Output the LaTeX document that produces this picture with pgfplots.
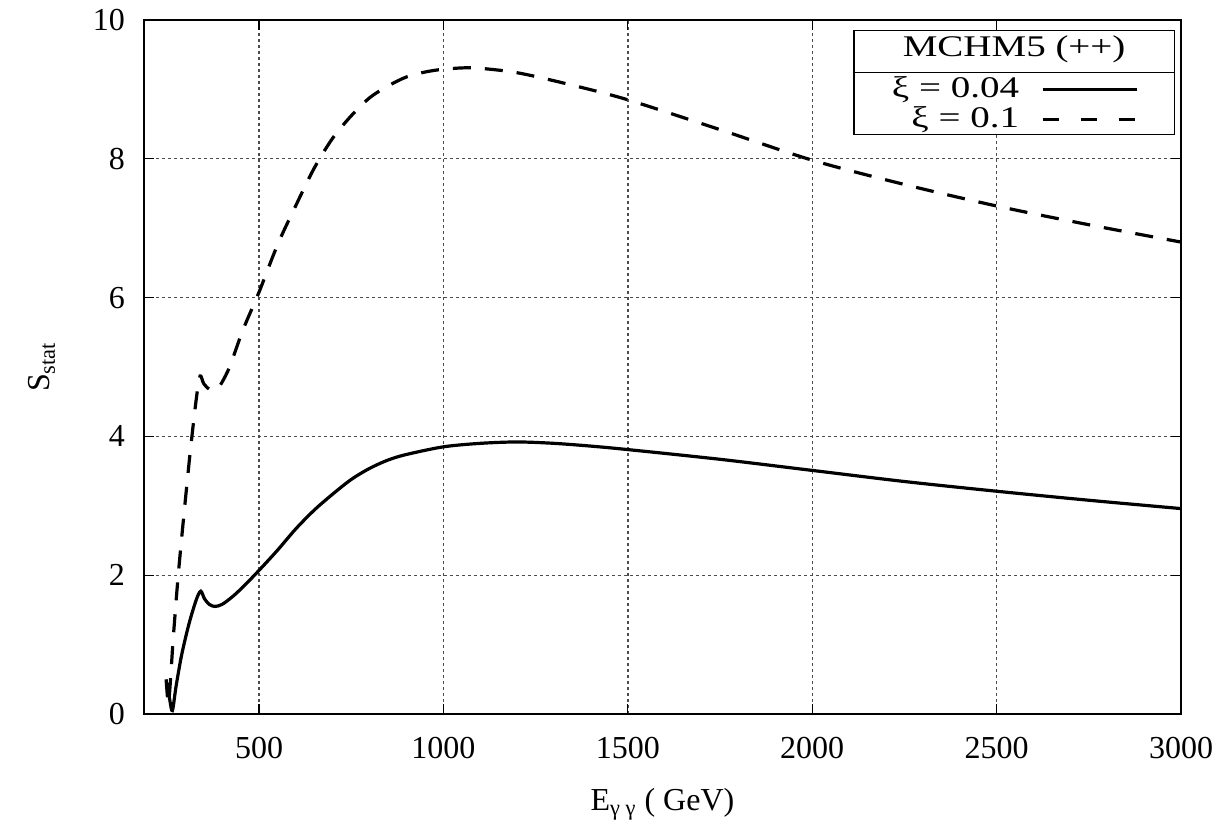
\documentclass[border=0pt]{standalone}
\usepackage{fontspec}
\setmainfont{Liberation Serif}
\newfontfamily\legfont[FakeStretch=1.3]{Liberation Serif}
\usepackage{pgfplots}
\pgfplotsset{compat=1.18}
\usetikzlibrary{calc}
\begin{document}
\fontsize{16}{19}\selectfont
\begin{tikzpicture}
\begin{axis}[
  name=ax,
  scale only axis,
  width=518.5pt, height=347pt,
  xmin=188, xmax=3000, ymin=0, ymax=10,
  xtick={500,1000,1500,2000,2500,3000},
  ytick={0,2,4,6,8,10},
  /pgf/number format/assume math mode=true,
  /pgf/number format/1000 sep={},
  tick label style={font=\fontsize{16}{19}\selectfont},
  label style={font=\fontsize{16}{19}\selectfont},
  xticklabel style={yshift=-6pt},
  yticklabel style={xshift=-4pt},
  grid=major,
  major grid style={black!70, dash pattern=on 1.3pt off 1.7pt, line width=0.7pt},
  tick style={black, line width=0.6pt},
  major tick length=5pt,
  tick align=inside,
  axis line style={line width=1pt},
  xlabel={E\textsubscript{γ γ} ( GeV)},
  ylabel={S\textsubscript{stat}},
  xlabel style={yshift=-4pt},
  ylabel style={yshift=8pt},
]
\addplot[black, line width=1.6pt, smooth] coordinates {
(251,0.45) (258,0.2) (265,0.05) (275,0.4) (290,0.85) (310,1.3) (330,1.65) (342,1.77)
(352,1.66) (365,1.58) (380,1.55) (400,1.58) (430,1.7) (460,1.85) (500,2.07)
(550,2.36) (600,2.67) (650,2.94) (700,3.17) (750,3.38) (800,3.54) (850,3.66) (900,3.74)
(1000,3.85) (1100,3.9) (1200,3.92) (1300,3.9) (1400,3.86) (1500,3.81)
(1750,3.67) (2000,3.51) (2250,3.35) (2500,3.21) (2750,3.08) (3000,2.96)
};
\addplot[black, line width=1.6pt, dash pattern=on 9pt off 7pt, smooth] coordinates {
(248,0.5) (254,0.15) (260,0.5) (267,1.07) (280,1.95) (294,2.75) (313,3.76) (330,4.55) (340,4.87)
(350,4.76) (365,4.68) (380,4.67) (395,4.74) (420,5.0) (456,5.53) (500,6.08)
(550,6.76) (600,7.33) (650,7.87) (700,8.3) (750,8.62) (800,8.88) (850,9.05)
(900,9.18) (950,9.25) (1000,9.29) (1080,9.31) (1200,9.24) (1350,9.06) (1500,8.85)
(1750,8.42) (2000,7.98) (2250,7.63) (2500,7.32) (2750,7.05) (3000,6.8)
};
\end{axis}
\node[anchor=north east, draw=black, fill=white, inner sep=0pt, line width=0.7pt] at ($(ax.north east)+(-3pt,-5pt)$) {%
\legfont\fontsize{15}{15}\selectfont
\renewcommand{\arraystretch}{1}%
\begin{tabular}{@{\hspace{19pt}}r@{\hspace{11pt}}l@{\hspace{18pt}}}
\multicolumn{2}{@{}c@{}}{\rule{0pt}{13pt}MCHM5 (++)}\\[3pt]
\hline
\rule{0pt}{12.5pt}ξ = 0.04 & \tikz[baseline=-0.6ex]\draw[line width=1.6pt] (0,0)--(47pt,0);\\
ξ = 0.1 & \tikz[baseline=-0.6ex]\draw[line width=1.6pt, dash pattern=on 8pt off 11pt] (0,0)--(46pt,0);\\[-1pt]
\end{tabular}};
\pgfresetboundingbox
\path[use as bounding box] ($(ax.south west)+(-72pt,-55.5pt)$) rectangle ($(ax.north east)+(21.5pt,10pt)$);
\end{tikzpicture}
\end{document}
